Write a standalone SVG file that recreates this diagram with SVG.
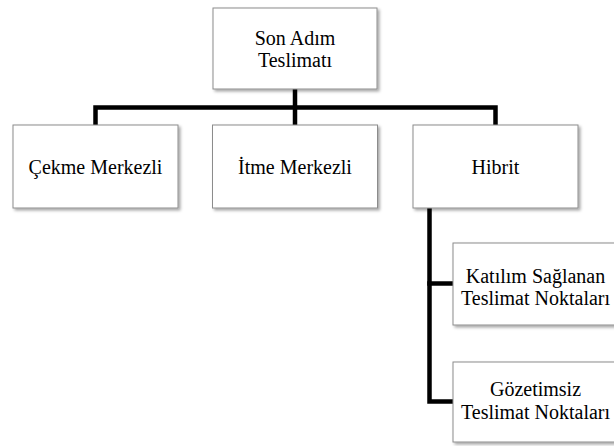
<svg xmlns="http://www.w3.org/2000/svg" width="614" height="446" viewBox="0 0 614 446">
<defs>
<filter id="sh" x="-10%" y="-10%" width="130%" height="130%">
<feDropShadow dx="2" dy="2" stdDeviation="1.5" flood-color="#000" flood-opacity="0.35"/>
</filter>
</defs>
<style>
.box{fill:#fff;stroke:#8c8c8c;stroke-width:1;filter:url(#sh)}
.t{font-size:20px;fill:#000;text-anchor:middle}
.c{fill:none;stroke:#000;stroke-width:4.5;stroke-linecap:square;stroke-linejoin:miter}
</style>
<rect width="614" height="446" fill="#fff"/>
<g id="connectors">
<path class="c" d="M295,89 V124"/>
<path class="c" d="M95.5,125 V107.5 H495.5 V125"/>
<path class="c" d="M429.5,208 V401.5 H453"/>
<path class="c" d="M429.5,283.5 H453"/>
</g>
<g font-family="'Liberation Serif', 'Times New Roman', 'DejaVu Serif', serif">
<g id="root">
<rect class="box" x="213" y="8" width="164" height="81"/>
<text class="t" x="295" y="44.9">Son Adım</text>
<text class="t" x="295" y="67.4">Teslimatı</text>
</g>
<g id="cekme">
<rect class="box" x="13" y="125" width="165" height="83"/>
<text class="t" x="95.5" y="174">Çekme Merkezli</text>
</g>
<g id="itme">
<rect class="box" x="212.5" y="125" width="165" height="83"/>
<text class="t" x="295" y="174">İtme Merkezli</text>
</g>
<g id="hibrit">
<rect class="box" x="413" y="125" width="165" height="83"/>
<text class="t" x="495.5" y="174">Hibrit</text>
</g>
<g id="katilim">
<rect class="box" x="453" y="243" width="165" height="82"/>
<text class="t" x="535.5" y="282.5">Katılım Sağlanan</text>
<text class="t" x="535.5" y="305">Teslimat Noktaları</text>
</g>
<g id="gozetimsiz">
<rect class="box" x="453" y="362" width="165" height="80"/>
<text class="t" x="535.5" y="396.2">Gözetimsiz</text>
<text class="t" x="535.5" y="418.7">Teslimat Noktaları</text>
</g>
</g>
</svg>
